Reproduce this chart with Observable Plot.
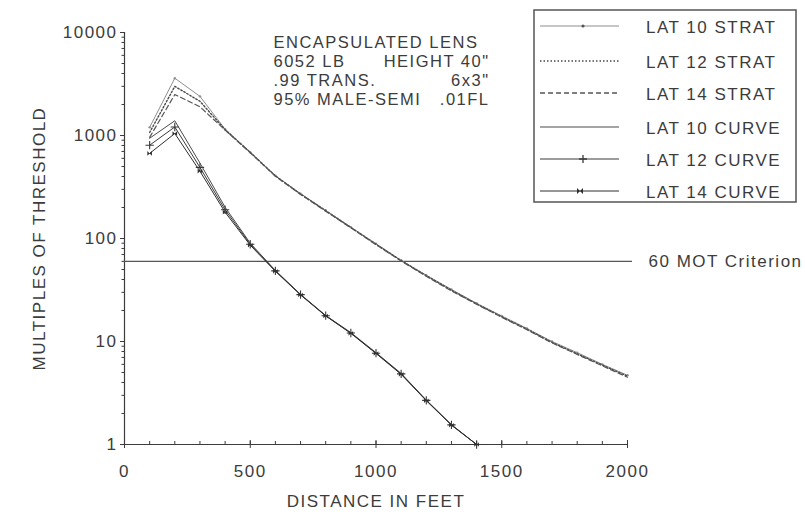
<!DOCTYPE html>
<html>
<head>
<meta charset="utf-8">
<script src="https://cdn.jsdelivr.net/npm/d3@7"></script>
<script src="https://cdn.jsdelivr.net/npm/@observablehq/plot@0.6"></script>
<style>
  body { margin: 0; background: #fff; }
  #wrap { position: relative; width: 805px; height: 516px; font-family: "Liberation Sans", Arial, sans-serif; }
  #legend { position: absolute; left: 533px; top: 9px; }
</style>
</head>
<body>
<div id="wrap"></div>
<script>
// ---- data ----
const stratDist = [100,200,300,400,500,600,700,800,900,1000,1100,1200,1300,1400,1500,1600,1700,1800,1900,2000];
const lat10Strat = [1200,3600,2400,1151,688,408,273,188,129,89,61.4,44,32,23.5,17.7,13.4,10,7.8,6.0,4.7];
const lat12Strat = [1070,3000,2150,1140,685,405,270,186,128,88,61,43.5,31.5,23.2,17.4,13.2,9.8,7.6,5.9,4.6];
const lat14Strat = [960,2500,1900,1130,680,402,268,184,127,87,60.5,43,31,23,17.2,13,9.7,7.5,5.8,4.5];

const curveDist = [100,200,300,400,500,600,700,800,900,1000,1100,1200,1300,1400];
const lat10Curve = [940,1390,540,201,90,49,28.7,17.9,12.2,7.8,4.9,2.7,1.56,1.0];
const lat12Curve = [805,1210,490,190,88,48.5,28.5,17.8,12.1,7.7,4.85,2.68,1.55,1.0];
const lat14Curve = [670,1045,450,180,86,48,28.3,17.7,12.0,7.65,4.8,2.66,1.54,1.0];

const seriesNames = ["LAT 10 STRAT","LAT 12 STRAT","LAT 14 STRAT","LAT 10 CURVE","LAT 12 CURVE","LAT 14 CURVE"];
const criterion = 60;
const criterionLabel = "60 MOT Criterion";
const xTicks = [0,500,1000,1500,2000];
const yTicks = [1,10,100,1000,10000];
const noteLeft = ["ENCAPSULATED LENS","6052 LB",".99 TRANS.","95% MALE-SEMI"];
const noteRight = ["","HEIGHT 40\"","6x3\"",".01FL"];
const xLabel = "DISTANCE IN FEET";
const yLabel = "MULTIPLES OF THRESHOLD";

// ---- build tables ----
const toRows = (xs, ys, name) => xs.map((d, i) => ({dist: d, v: ys[i], name}));
const strat10 = toRows(stratDist, lat10Strat, seriesNames[0]);
const strat12 = toRows(stratDist, lat12Strat, seriesNames[1]);
const strat14 = toRows(stratDist, lat14Strat, seriesNames[2]);
const curve10 = toRows(curveDist, lat10Curve, seriesNames[3]);
const curve12 = toRows(curveDist, lat12Curve, seriesNames[4]);
const curve14 = toRows(curveDist, lat14Curve, seriesNames[5]);

const minorY = [];
for (let e = 0; e < 4; e++) for (let k = 2; k <= 9; k++) minorY.push(k * 10 ** e);
const minorX = d3.range(0, 2001, 100);

const bowtie = {
  draw(ctx, size) {
    const r = Math.sqrt(size) / 2;
    ctx.moveTo(-r, -r); ctx.lineTo(0, 0); ctx.lineTo(-r, r); ctx.closePath();
    ctx.moveTo(r, -r); ctx.lineTo(0, 0); ctx.lineTo(r, r); ctx.closePath();
  }
};

const ink = "#3c3c3c";
const styles = [
  {stroke: "#8e8e8e", dash: null, width: 1, marker: "dot"},
  {stroke: "#4a4a4a", dash: "1.5,2", width: 1.4, marker: null},
  {stroke: "#555555", dash: "5,3", width: 1.2, marker: null},
  {stroke: "#4a4a4a", dash: null, width: 1, marker: null},
  {stroke: "#3a3a3a", dash: null, width: 1, marker: "plus"},
  {stroke: "#2e2e2e", dash: null, width: 1, marker: "bowtie"}
];

const noteMarks = [];
noteLeft.forEach((t, i) => {
  noteMarks.push(Plot.text([t], {frameAnchor: "top-left", text: d => d, dx: 149, dy: 4 + 19 * i,
    lineAnchor: "top", textAnchor: "start", fill: ink, fontSize: 16.5}));
  if (noteRight[i]) noteMarks.push(Plot.text([noteRight[i]], {frameAnchor: "top-left", text: d => d, dx: 365, dy: 4 + 19 * i,
    lineAnchor: "top", textAnchor: "end", fill: ink, fontSize: 16.5}));
});

const chart = Plot.plot({
  width: 805,
  height: 516,
  marginLeft: 124,
  marginRight: 178,
  marginTop: 32,
  marginBottom: 72,
  style: {fontFamily: "'Liberation Sans', Arial, sans-serif", fontSize: "17px", letterSpacing: "1.5px", color: ink, background: "white"},
  x: {domain: [0, 2000], axis: null},
  y: {type: "log", domain: [1, 10000], axis: null},
  marks: [
    // axes
    Plot.axisY(minorY, {tickSize: 2.5, text: null, stroke: ink, label: null}),
    Plot.axisY(yTicks, {tickSize: 4, tickPadding: 3, tickFormat: d => String(d), fill: ink, stroke: ink,
      label: yLabel, labelAnchor: "center", labelArrow: "none", labelOffset: 92}),
    Plot.axisX(minorX, {tickSize: -3, text: null, stroke: ink, label: null}),
    Plot.axisX(xTicks, {tickSize: 4, tickPadding: 16, tickFormat: d => String(d), fill: ink, stroke: ink,
      label: xLabel, labelAnchor: "center", labelArrow: "none", labelOffset: 62}),
    Plot.axisX(xTicks, {tickSize: -4, text: null, stroke: ink, label: null}),
    Plot.ruleX([0], {stroke: ink, strokeWidth: 1.2}),
    Plot.ruleY([1], {stroke: ink, strokeWidth: 1.2}),
    // criterion
    Plot.ruleY([criterion], {stroke: "#555", strokeWidth: 1.2, insetRight: -5}),
    Plot.text([criterionLabel], {x: 2000, y: criterion, text: d => d, dx: 21, textAnchor: "start", fill: ink, fontSize: 17}),
    // strat lines
    Plot.line(strat10, {x: "dist", y: "v", stroke: styles[0].stroke, strokeWidth: styles[0].width}),
    Plot.dot(strat10, {x: "dist", y: "v", r: 1.2, fill: styles[0].stroke}),
    Plot.line(strat12, {x: "dist", y: "v", stroke: styles[1].stroke, strokeWidth: styles[1].width, strokeDasharray: styles[1].dash}),
    Plot.line(strat14, {x: "dist", y: "v", stroke: styles[2].stroke, strokeWidth: styles[2].width, strokeDasharray: styles[2].dash}),
    // curve lines
    Plot.line(curve10, {x: "dist", y: "v", stroke: styles[3].stroke, strokeWidth: styles[3].width}),
    Plot.line(curve12, {x: "dist", y: "v", stroke: styles[4].stroke, strokeWidth: styles[4].width}),
    Plot.dot(curve12, {x: "dist", y: "v", symbol: "plus", r: 2.8, stroke: styles[4].stroke, strokeWidth: 1.1}),
    Plot.line(curve14, {x: "dist", y: "v", stroke: styles[5].stroke, strokeWidth: styles[5].width}),
    Plot.dot(curve14, {x: "dist", y: "v", symbol: bowtie, r: 2.6, fill: styles[5].stroke, stroke: "none"}),
    ...noteMarks
  ]
});

const wrap = document.getElementById("wrap");
wrap.appendChild(chart);

// ---- legend ----
const lw = 262, lh = 192, rowY = [17, 52, 84, 118, 150, 182];
const leg = d3.select(wrap).append("svg").attr("id", "legend").attr("width", lw + 2).attr("height", lh + 2);
leg.append("rect").attr("x", 1).attr("y", 1).attr("width", lw).attr("height", lh)
  .attr("fill", "white").attr("stroke", "#555").attr("stroke-width", 1.5);
seriesNames.forEach((name, i) => {
  const s = styles[i], y = rowY[i];
  leg.append("line").attr("x1", 7).attr("x2", 86).attr("y1", y).attr("y2", y)
    .attr("stroke", s.stroke).attr("stroke-width", s.width + 0.2).attr("stroke-dasharray", s.dash);
  if (s.marker === "dot") leg.append("circle").attr("cx", 50).attr("cy", y).attr("r", 1.6).attr("fill", "#555");
  if (s.marker === "plus") leg.append("path").attr("d", `M46,${y}h8M50,${y-4}v8`).attr("stroke", s.stroke).attr("stroke-width", 1.3);
  if (s.marker === "bowtie") leg.append("path").attr("d", d3.symbol(bowtie, 36)()).attr("transform", `translate(47,${y})`).attr("fill", s.stroke);
  leg.append("text").attr("x", 113).attr("y", y + 6.5).text(name)
    .attr("fill", ink).attr("font-size", 17).attr("letter-spacing", "1.5px")
    .attr("font-family", "'Liberation Sans', Arial, sans-serif");
});
</script>
</body>
</html>
